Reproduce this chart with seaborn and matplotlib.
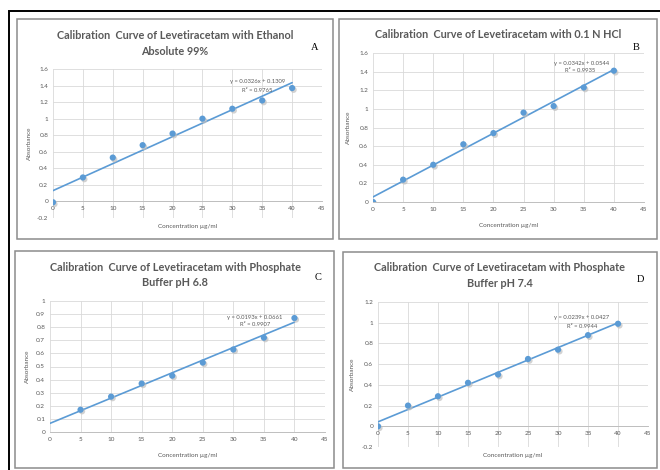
import matplotlib
matplotlib.use("Agg")
import matplotlib.pyplot as plt
import seaborn as sns
from matplotlib.patches import Rectangle

# values
conc = [0, 5, 10, 15, 20, 25, 30, 35, 40]
abs_ethanol = [-0.01, 0.29, 0.53, 0.68, 0.82, 1.00, 1.12, 1.22, 1.37]
abs_hcl = [0.0, 0.24, 0.40, 0.62, 0.74, 0.96, 1.03, 1.23, 1.41]
conc_ph68 = [5, 10, 15, 20, 25, 30, 35, 40]
abs_ph68 = [0.17, 0.27, 0.37, 0.43, 0.53, 0.63, 0.72, 0.87]
abs_ph74 = [0.0, 0.20, 0.29, 0.42, 0.50, 0.65, 0.74, 0.88, 0.99]

slopes = [0.0326, 0.0342, 0.0193, 0.0239]
intercepts = [0.1309, 0.0544, 0.0661, 0.0427]
r2_values = [0.9765, 0.9935, 0.9907, 0.9944]

titles = [
    "Calibration  Curve of Levetiracetam with Ethanol\nAbsolute 99%",
    "Calibration  Curve of Levetiracetam with 0.1 N HCl",
    "Calibration  Curve of Levetiracetam with Phosphate\nBuffer pH 6.8",
    "Calibration  Curve of Levetiracetam with Phosphate\nBuffer pH 7.4",
]
panel_letters = ["A", "B", "C", "D"]
x_ticks = [0, 5, 10, 15, 20, 25, 30, 35, 40, 45]
y_ranges = [(-0.2, 1.6, 0.2), (0.0, 1.6, 0.2), (0.0, 1.0, 0.1), (-0.2, 1.2, 0.2)]
y_labels = [
    ["-0.2", "0", "0.2", "0.4", "0.6", "0.8", "1", "1.2", "1.4", "1.6"],
    ["0", "0.2", "0.4", "0.6", "0.8", "1", "1.2", "1.4", "1.6"],
    ["0", "0.1", "0.2", "0.3", "0.4", "0.5", "0.6", "0.7", "0.8", "0.9", "1"],
    ["-0.2", "0", "0.2", "0.4", "0.6", "0.8", "1", "1.2"],
]

sns.set_style("white")
plt.rcParams["font.family"] = ["Lato", "DejaVu Sans"]

W, H = 660, 470
fig = plt.figure(figsize=(6.6, 4.7), dpi=100)


def px(x, y):
    return x / W, 1 - y / H


BLUE = "#5B9BD5"
GREY = "#595959"
GRID = "#D9D9D9"

# axes rectangles in pixel (left, top, right, bottom)
ax_px = [(53, 69, 322, 218), (373, 53, 644, 202), (50, 301, 325, 432), (378, 302, 648, 447)]
ylab_pos = [(-0.078, 0.5), (-0.081, 0.5), (-0.073, 0.5), (-0.085, 0.5)]
xlab_pos = [(0.5, -0.04), (0.5, -0.141), (0.5, -0.16), (0.5, -0.041)]
title_pos = [(175, 43.5), (498, 35), (175, 275), (500, 275.5)]
letter_pos = [(315, 48), (636, 48), (318, 277), (640, 279)]
eq_pos = [((258, 81), (257, 90)), ((582, 63), (580, 71)),
          ((255, 317), (255, 325)), ((582, 318), (582, 327))]
box_px = [(17, 19, 333, 239), (339, 19, 657, 239), (15, 251, 334, 468), (343, 252, 657, 468)]

series_x = [conc, conc, conc_ph68, conc]
series_y = [abs_ethanol, abs_hcl, abs_ph68, abs_ph74]

for i in range(4):
    l, t, r, b = ax_px[i]
    ax = fig.add_axes([l / W, 1 - b / H, (r - l) / W, (b - t) / H])
    ymin, ymax, ystep = y_ranges[i]
    yt = [round(ymin + k * ystep, 2) for k in range(len(y_labels[i]))]

    # trend line over the data range
    lx = [0, 40]
    ly = [intercepts[i] + slopes[i] * v for v in lx]
    sns.lineplot(x=lx, y=ly, ax=ax, color=BLUE, linewidth=1.2, zorder=3)
    sns.scatterplot(x=[v + 0.25 for v in series_x[i]], y=[v - 0.012 * (ymax - ymin) for v in series_y[i]],
                    ax=ax, color="#BFBFBF", s=20, edgecolor="none", zorder=3, alpha=0.7)
    sns.scatterplot(x=series_x[i], y=series_y[i], ax=ax, color=BLUE, s=20, edgecolor="none", zorder=4)

    ax.set_xlim(0, 45)
    ax.set_ylim(ymin, ymax)
    ax.set_xticks(x_ticks)
    ax.set_xticklabels([str(v) for v in x_ticks])
    ax.set_yticks(yt)
    ax.set_yticklabels(y_labels[i])
    ax.grid(True, color=GRID, linewidth=0.6)
    ax.set_axisbelow(True)
    for s in ["left", "right", "top"]:
        ax.spines[s].set_visible(False)
    ax.spines["bottom"].set_position(("data", 0))
    ax.spines["bottom"].set_color("#BFBFBF")
    ax.spines["bottom"].set_linewidth(0.7)
    ax.tick_params(axis="both", length=0, labelsize=4.6, labelcolor=GREY, pad=3.5)

    ax.set_ylabel("Absorbance", fontsize=4.6, color=GREY)
    ax.set_xlabel("Concentration µg/ml", fontsize=4.6, color=GREY)
    ax.yaxis.set_label_coords(*ylab_pos[i])
    ax.xaxis.set_label_coords(*xlab_pos[i])

    tx, ty = px(*title_pos[i])
    fig.text(tx, ty, titles[i], ha="center", va="center", fontsize=7.8,
             fontweight="bold", color=GREY, linespacing=1.5)
    lx_, ly_ = px(*letter_pos[i])
    fig.text(lx_, ly_, panel_letters[i], ha="center", va="center", fontsize=7.5,
             family="Liberation Serif", color="black")
    (e1, e2) = eq_pos[i]
    sign = "+" if intercepts[i] >= 0 else "-"
    fig.text(*px(*e1), f"y = {slopes[i]:.4f}x {sign} {abs(intercepts[i]):.4f}",
             ha="center", va="center", fontsize=4.2, color=GREY)
    fig.text(*px(*e2), f"R² = {r2_values[i]:.4f}", ha="center", va="center",
             fontsize=4.2, color=GREY)

    bl, bt, br, bb = box_px[i]
    fig.add_artist(Rectangle((bl / W, 1 - bb / H), (br - bl) / W, (bb - bt) / H,
                             transform=fig.transFigure, fill=False,
                             edgecolor="#8C8C8C", linewidth=1.1))

# outer black frame
fig.add_artist(Rectangle((9 / W, -0.02), 1.05, 1 - 11 / H + 0.02, transform=fig.transFigure,
                         fill=False, edgecolor="black", linewidth=1.4))

fig.savefig("out.png", dpi=100)
